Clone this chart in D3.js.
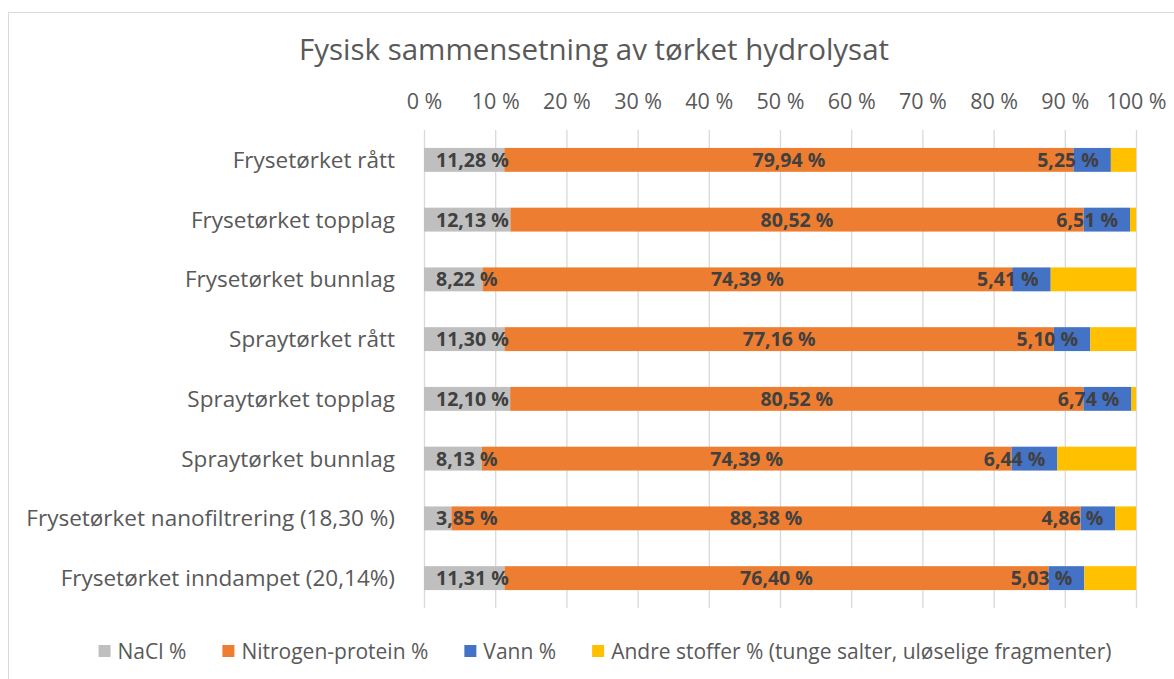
<!DOCTYPE html>
<html><head><meta charset="utf-8">
<script src="https://cdn.jsdelivr.net/npm/d3@7"></script>
<style>html,body{margin:0;padding:0;background:#fff;}svg{display:block;font-family:"Open Sans",sans-serif;}</style>
</head><body><svg id="c" width="1174" height="679"></svg>
<script>
const categories = ["Frysetørket rått","Frysetørket topplag","Frysetørket bunnlag","Spraytørket rått","Spraytørket topplag","Spraytørket bunnlag","Frysetørket nanofiltrering (18,30 %)","Frysetørket inndampet (20,14%)"];
const seriesNames = ["NaCl %","Nitrogen-protein %","Vann %","Andre stoffer % (tunge salter, uløselige fragmenter)"];
const nacl = [11.28,12.13,8.22,11.30,12.10,8.13,3.85,11.31];
const protein = [79.94,80.52,74.39,77.16,80.52,74.39,88.38,76.40];
const vann = [5.25,6.51,5.41,5.10,6.74,6.44,4.86,5.03];
const andre = [3.53,0.84,11.98,6.44,0.64,11.04,2.91,7.26];
const tickValues = [0,0.1,0.2,0.3,0.4,0.5,0.6,0.7,0.8,0.9,1];
const colors = ["#BFBFBF","#ED7D31","#4472C4","#FFC000"];
const labelMode = ["base","center","end",null];

const svg = d3.select("#c");
svg.append("rect").attr("x",8.5).attr("y",12.5).attr("width",1200).attr("height",700).attr("fill","none").attr("stroke","#d9d9d9");

const rows = categories.map((c,i)=>({cat:c,v:[nacl[i],protein[i],vann[i],andre[i]]}));
const x = d3.scaleLinear().domain([0,1]).range([424,1136]);
const y = d3.scaleBand().domain(categories).range([130,608]).paddingInner(0.6).paddingOuter(0.3);

svg.append("text").attr("x",594).attr("y",49).attr("dy","0.36em").attr("text-anchor","middle").attr("font-size",29.5).attr("fill","#595959").text("Fysisk sammensetning av tørket hydrolysat");

const ax = svg.append("g").attr("transform","translate(0,130)")
  .call(d3.axisTop(x).tickValues(tickValues).tickSize(-478).tickFormat(d=>Math.round(d*100)+" %"));
ax.select(".domain").remove();
ax.selectAll(".tick line").attr("stroke","#d9d9d9").attr("stroke-width",1.3);
ax.selectAll(".tick text").attr("font-size",21.5).attr("fill","#595959").attr("y",-29).attr("dy","0.36em").style("font-family","'Open Sans',sans-serif");

const stack = d3.stack().keys([0,1,2,3]).value((d,k)=>d.v[k]/d3.sum(d.v));
const layers = stack(rows);
const g = svg.append("g");
layers.forEach((layer,k)=>{
  g.selectAll(null).data(layer).join("rect")
    .attr("x",d=>x(d[0])).attr("width",d=>x(d[1])-x(d[0]))
    .attr("y",d=>y(d.data.cat)).attr("height",y.bandwidth())
    .attr("fill",colors[k]);
});
layers.forEach((layer,k)=>{
  const m = labelMode[k];
  if(!m) return;
  g.selectAll(null).data(layer).join("text")
    .attr("x",d=> m==="base" ? x(d[0])+12 : m==="end" ? x(d[1])-12 : (x(d[0])+x(d[1]))/2)
    .attr("y",d=>y(d.data.cat)+y.bandwidth()/2)
    .attr("dy","0.36em").attr("text-anchor", m==="base"?"start":m==="end"?"end":"middle")
    .attr("font-size",19.5).attr("font-weight","bold").attr("fill","#404040")
    .text(d=>d.data.v[k].toFixed(2).replace(".",",")+" %");
});

svg.append("g").selectAll("text").data(categories).join("text")
  .attr("x",395).attr("y",d=>y(d)+y.bandwidth()/2).attr("dy","0.36em").attr("text-anchor","end")
  .attr("font-size",22.5).attr("fill","#595959").text(d=>d);

// legend, laid out from measured text widths and centred
const leg = svg.append("g");
const items = seriesNames.map((s,i)=>{
  const it = leg.append("g");
  it.append("rect").attr("x",0).attr("y",-6).attr("width",12).attr("height",12).attr("fill",colors[i]);
  const t = it.append("text").attr("x",19).attr("y",0).attr("dy","0.36em").attr("font-size",21).attr("fill","#595959").text(s);
  return {g:it, w:19+t.node().getComputedTextLength()};
});
const gap = 36;
const total = d3.sum(items,d=>d.w)+gap*(items.length-1);
let cx = 605 - total/2;
items.forEach(it=>{ it.g.attr("transform",`translate(${cx},651)`); cx += it.w+gap; });
</script></body></html>
